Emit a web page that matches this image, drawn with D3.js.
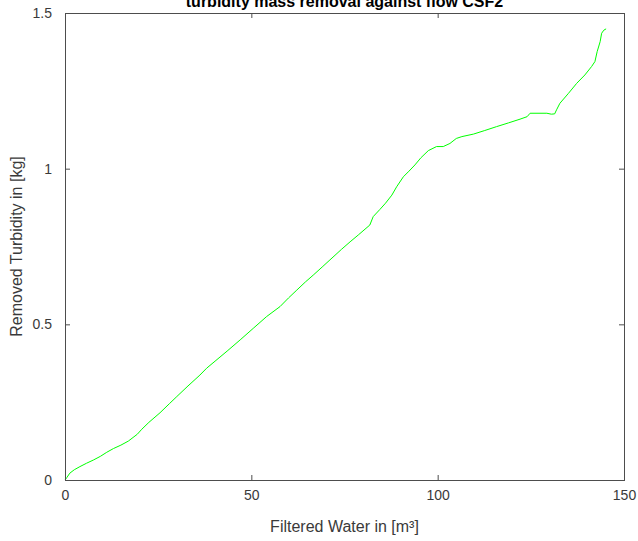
<!DOCTYPE html>
<html>
<head>
<meta charset="utf-8">
<script src="https://cdn.jsdelivr.net/npm/d3@7"></script>
<style>
  html, body { margin: 0; padding: 0; background: #fff; }
  svg { display: block; font-family: "Liberation Sans", Arial, Helvetica, sans-serif; }
</style>
</head>
<body>
<svg id="chart" width="638" height="541"></svg>
<script>
// Filtered water volume [m³] and cumulative removed turbidity mass [kg]
const filteredWater = [
  0, 0.5, 1.3, 2.5, 4.0, 5.8, 7.6, 9.5, 11.2, 13.0, 15.0, 17.0, 19.4, 20.6, 22.5,
  25.5, 28.0, 30.0, 33.0, 36.2, 38.0, 40.5, 43.5, 47.0, 50.5, 54.1, 57.7, 60.0,
  62.2, 64.5, 66.6, 69.0, 71.1, 74.2, 76.5, 78.7, 81.8, 82.7, 84.5, 86.0, 87.7,
  89.0, 90.8, 92.3, 93.9, 95.5, 97.5, 99.7, 101.5, 103.3, 105.0, 106.5, 109.6,
  112.5, 115.8, 119.0, 122.1, 124.0, 124.8, 129.3, 130.5, 131.4, 131.9, 132.8,
  135.1, 137.3, 139.5, 141.3, 142.2, 142.8, 143.6, 144.0, 144.6, 145.2
];
const removedTurbidity = [
  0, 0.008, 0.022, 0.033, 0.043, 0.054, 0.064, 0.076, 0.089, 0.101, 0.112, 0.125,
  0.147, 0.163, 0.185, 0.216, 0.245, 0.268, 0.302, 0.337, 0.359, 0.384, 0.414,
  0.450, 0.487, 0.525, 0.557, 0.585, 0.610, 0.636, 0.658, 0.684, 0.707, 0.741,
  0.765, 0.787, 0.819, 0.846, 0.869, 0.889, 0.915, 0.942, 0.974, 0.992, 1.012,
  1.035, 1.058, 1.071, 1.071, 1.081, 1.097, 1.103, 1.111, 1.122, 1.135, 1.147,
  1.159, 1.167, 1.178, 1.178, 1.175, 1.176, 1.189, 1.210, 1.242, 1.274, 1.301,
  1.328, 1.344, 1.376, 1.408, 1.435, 1.445, 1.449
];
const xTicks = [0, 50, 100, 150];
const yTicks = [0, 0.5, 1, 1.5];
const titleText = "turbidity mass removal against flow CSF2";
const xLabel = "Filtered Water in [m³]";
const yLabel = "Removed Turbidity in [kg]";

const svg = d3.select("#chart");
const margin = { left: 65, top: 13, right: 14, bottom: 61 };
const W = 638 - margin.left - margin.right;
const H = 541 - margin.top - margin.bottom;
const axisColor = "#4d4d4d";
const textColor = "#3a3a3a";
const tickLen = 5;

const x = d3.scaleLinear().domain([0, 150]).range([0, W]);
const y = d3.scaleLinear().domain([0, 1.5]).range([H, 0]);

const g = svg.append("g").attr("transform", `translate(${margin.left},${margin.top})`);

// data line
const pts = filteredWater.map((v, i) => [v, removedTurbidity[i]]);
g.append("path")
  .datum(pts)
  .attr("fill", "none")
  .attr("stroke", "#00ff00")
  .attr("stroke-width", 1)
  .attr("stroke-linejoin", "round")
  .attr("d", d3.line().x(d => x(d[0])).y(d => y(d[1])));

// axes with inward ticks, mirrored on the top and right sides
function styleAxis(sel) {
  sel.select(".domain").attr("stroke", axisColor).attr("stroke-width", 1);
  sel.selectAll(".tick line").attr("stroke", axisColor);
  sel.selectAll(".tick text").attr("fill", textColor).style("font-size", "14px");
}

g.append("g").attr("transform", `translate(0,${H})`)
  .call(d3.axisBottom(x).tickValues(xTicks).tickFormat(d3.format("d"))
    .tickSizeInner(-tickLen).tickSizeOuter(0).tickPadding(10))
  .call(styleAxis);

g.append("g")
  .call(d3.axisTop(x).tickValues(xTicks).tickFormat("")
    .tickSizeInner(-tickLen).tickSizeOuter(0))
  .call(styleAxis);

g.append("g")
  .call(d3.axisLeft(y).tickValues(yTicks).tickFormat(d3.format("~g"))
    .tickSizeInner(-tickLen).tickSizeOuter(0).tickPadding(13))
  .call(styleAxis);

g.append("g").attr("transform", `translate(${W},0)`)
  .call(d3.axisRight(y).tickValues(yTicks).tickFormat("")
    .tickSizeInner(-tickLen).tickSizeOuter(0))
  .call(styleAxis);

svg.selectAll(".tick text").attr("font-family", null);
svg.selectAll(".domain").attr("shape-rendering", "crispEdges");

// title (its upper part runs past the top edge)
svg.append("text")
  .attr("x", margin.left + W / 2)
  .attr("y", 7)
  .attr("text-anchor", "middle")
  .attr("fill", "#000")
  .style("font-size", "16px")
  .style("font-weight", "bold")
  .text(titleText);

svg.append("text")
  .attr("x", margin.left + W / 2)
  .attr("y", 532)
  .attr("text-anchor", "middle")
  .attr("fill", textColor)
  .style("font-size", "16px")
  .text(xLabel);

svg.append("text")
  .attr("transform", `translate(22,${margin.top + H / 2}) rotate(-90)`)
  .attr("text-anchor", "middle")
  .attr("fill", textColor)
  .style("font-size", "16px")
  .text(yLabel);
</script>
</body>
</html>
